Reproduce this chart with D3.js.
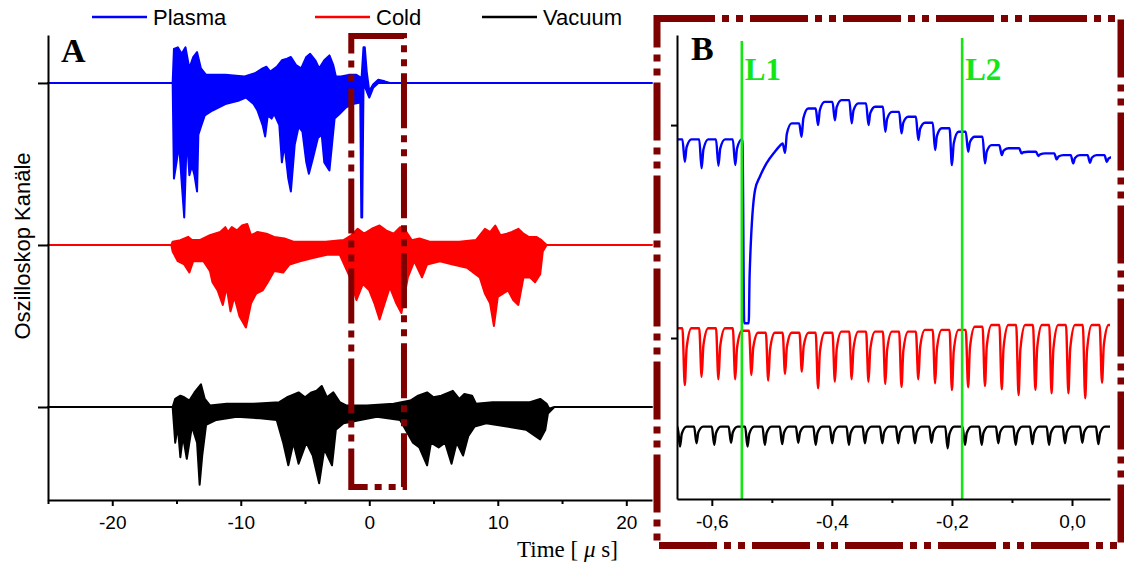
<!DOCTYPE html>
<html>
<head>
<meta charset="utf-8">
<script src="https://cdn.jsdelivr.net/npm/d3@7/dist/d3.min.js"></script>
<style>
  body { margin: 0; background: #fff; }
  text { font-family: "Liberation Sans", Arial, sans-serif; }
</style>
</head>
<body>
<svg id="chart" width="1124" height="563"></svg>
<script>
// ---- panel A: envelopes [time us, amplitude] ----
var channels = ["Plasma", "Cold", "Vacuum"];
var colors = ["#0000ff", "#ff0000", "#000000"];
var offsetsA = [20, 10, 0];
var ticksA = [-20, -10, 0, 10, 20];
var minorA = [-25, -15, -5, 5, 15];

var plasmaUpper = [[-25,0],[-15.3,0],[-15.2,2.1],[-14.9,2.2],[-14.6,1.8],[-14.3,2.2],[-14.0,0.9],[-13.7,1.6],[-13.4,1.9],[-13.1,0.9],[-12.7,0.5],[-11.2,0.5],[-9.7,0.4],[-8.9,0.6],[-8.3,0.9],[-8.0,1.0],[-7.7,0.7],[-7.2,1.0],[-6.8,1.4],[-6.4,1.5],[-6.1,1.6],[-5.7,1.1],[-5.3,0.9],[-4.9,1.6],[-4.6,1.8],[-4.2,1.4],[-3.9,0.9],[-3.5,1.4],[-3.1,1.7],[-2.8,1.1],[-2.6,0.4],[-2.2,0.4],[-1.6,0.5],[-1.0,0.5],[-0.6,0.3],[-0.45,2.2],[-0.35,2.2],[-0.2,0.7],[0.0,-0.5],[0.3,-0.1],[0.7,0.2],[1.2,0.1],[1.6,0],[22,0]];
var plasmaLower = [[-25,0],[-15.3,0],[-15.2,-5.9],[-15.0,-4.9],[-14.8,-3.8],[-14.6,-6.1],[-14.4,-8.3],[-14.2,-3.2],[-14.0,-5.7],[-13.8,-5.1],[-13.6,-5.7],[-13.4,-6.7],[-13.3,-3.2],[-13.1,-2.7],[-12.8,-2.0],[-12.2,-1.7],[-11.2,-1.3],[-10.2,-1.1],[-9.6,-0.9],[-9.0,-1.3],[-8.7,-1.7],[-8.3,-2.6],[-8.1,-3.3],[-7.9,-2.0],[-7.6,-2.2],[-7.4,-1.9],[-7.0,-2.6],[-6.8,-4.9],[-6.6,-3.8],[-6.3,-5.9],[-6.1,-6.7],[-5.8,-3.8],[-5.5,-2.7],[-5.2,-3.0],[-4.9,-4.9],[-4.7,-5.6],[-4.4,-4.7],[-4.0,-3.4],[-3.7,-3.2],[-3.5,-4.9],[-3.1,-5.4],[-2.9,-3.8],[-2.7,-2.2],[-2.3,-1.9],[-1.8,-1.5],[-1.3,-1.3],[-0.7,-1.2],[-0.62,-8.3],[-0.55,-8.3],[-0.45,-0.3],[-0.3,-0.3],[0.0,-0.9],[0.3,-0.3],[0.7,0],[22,0]];
var coldUpper = [[-25,0],[-15.4,0],[-15.3,0.2],[-14.7,0.3],[-14.1,0.5],[-13.8,0.3],[-13.2,0.3],[-12.4,0.6],[-11.6,0.8],[-11.2,1.1],[-11.0,0.8],[-10.7,1.1],[-10.3,0.9],[-9.9,1.2],[-9.5,1.3],[-9.2,0.6],[-8.7,0.8],[-8.0,0.7],[-7.4,0.5],[-6.6,0.4],[-5.9,0.2],[-4.6,0.2],[-3.4,0.2],[-2.0,0.3],[-1.4,0.6],[-0.9,1.0],[-0.4,0.7],[0.2,1.0],[0.8,1.2],[1.3,0.9],[1.9,0.7],[2.4,1.1],[2.8,0.9],[3.3,0.3],[3.9,0.4],[4.7,0.2],[5.7,0.2],[7.0,0.2],[8.3,0.3],[9.0,1.0],[9.4,0.8],[9.8,1.2],[10.2,0.6],[10.7,0.7],[11.1,0.8],[11.6,1.0],[12.0,0.7],[12.4,0.5],[13.0,0.5],[13.4,0.3],[13.8,0],[22,0]];
var coldLower = [[-25,0],[-15.4,0],[-15.3,-0.4],[-14.9,-1.0],[-14.4,-1.2],[-14.0,-1.7],[-13.7,-1.0],[-12.9,-1.0],[-12.4,-1.6],[-12.2,-2.3],[-11.8,-2.8],[-11.4,-3.7],[-11.1,-2.6],[-10.8,-4.1],[-10.5,-3.2],[-10.1,-4.4],[-9.6,-5.1],[-9.2,-3.6],[-8.8,-3.0],[-8.3,-2.8],[-7.9,-2.3],[-7.4,-1.6],[-6.7,-1.7],[-6.2,-1.2],[-5.4,-1.0],[-4.4,-0.8],[-3.3,-0.6],[-2.3,-0.6],[-1.5,-2.0],[-1.0,-3.4],[-0.5,-2.4],[0.0,-2.8],[0.4,-3.6],[0.8,-4.6],[1.2,-3.6],[1.6,-2.6],[2.1,-3.6],[2.5,-4.2],[3.0,-2.0],[3.5,-1.0],[4.1,-2.0],[4.5,-1.2],[5.5,-1.0],[6.5,-1.2],[7.6,-1.4],[8.6,-2.0],[9.0,-3.0],[9.4,-3.6],[9.7,-5.0],[10.0,-3.2],[10.4,-3.0],[10.8,-2.8],[11.2,-3.4],[11.6,-3.7],[12.0,-2.0],[12.5,-2.0],[12.9,-2.3],[13.3,-1.8],[13.5,-0.4],[13.8,0],[22,0]];
var vacuumUpper = [[-25,0],[-15.3,0],[-15.1,0.5],[-14.7,0.7],[-14.4,0.6],[-14.0,0.4],[-13.6,0.9],[-13.1,1.4],[-12.8,0.5],[-12.4,0.1],[-11.1,0.2],[-9.0,0.2],[-7.0,0.3],[-6.4,0.6],[-6.1,0.7],[-5.5,0.9],[-5.0,0.6],[-4.5,0.9],[-4.1,1.0],[-3.7,1.3],[-3.3,0.6],[-2.8,0.9],[-2.3,0.3],[-1.8,0.1],[-0.2,0.1],[1.9,0.2],[3.2,0.4],[3.8,0.7],[4.5,0.9],[5.0,0.6],[5.6,0.7],[6.5,1.0],[7.0,0.5],[7.4,0.8],[8.0,0.7],[8.3,0.2],[9.6,0.3],[11.2,0.3],[12.5,0.3],[13.3,0.5],[13.8,0.2],[14.0,-0.1],[14.4,0],[22,0]];
var vacuumLower = [[-25,0],[-15.3,0],[-15.1,-2.2],[-14.9,-1.2],[-14.7,-3.1],[-14.5,-1.8],[-14.2,-3.2],[-13.8,-1.2],[-13.4,-2.2],[-13.2,-4.8],[-13.0,-3.0],[-12.7,-1.1],[-11.9,-0.8],[-10.3,-0.6],[-8.5,-0.7],[-7.2,-0.8],[-6.7,-2.2],[-6.3,-3.6],[-5.9,-2.2],[-5.5,-3.5],[-4.9,-2.2],[-4.4,-3.0],[-3.9,-4.7],[-3.5,-2.6],[-2.9,-3.6],[-2.6,-1.4],[-2.0,-1.0],[-0.7,-0.8],[0.6,-0.6],[2.4,-0.8],[3.4,-2.2],[3.9,-2.5],[4.5,-3.6],[4.8,-2.2],[5.4,-2.5],[5.9,-2.2],[6.4,-3.5],[6.8,-2.2],[7.3,-3.0],[7.7,-1.8],[8.2,-1.2],[9.1,-1.0],[10.7,-1.2],[12.2,-1.4],[13.3,-2.0],[13.7,-1.4],[13.9,-0.4],[14.4,0],[22,0]];
var zoomWindow = [-1.4, 2.7];

// ---- panel B: dip times, level before each dip, dip minimum ----
var ticksB = [-0.6, -0.4, -0.2, 0.0];
var minorB = [-0.5, -0.3, -0.1];
var markers = [{name: "L1", t: -0.55}, {name: "L2", t: -0.183}];

var plasmaB_start = [-0.658, 19.33];
var plasmaB_dipsPre = [-0.645, -0.617, -0.589, -0.561];
var plasmaB_levelPre = [19.33, 19.33, 19.33, 19.33];
var plasmaB_minPre = [18.28, 17.97, 18.09, 18.12];
var plasmaB_jump = [[-0.549,19.33],[-0.546,10.69],[-0.5385,10.69],[-0.537,12.98],[-0.528,16.95],[-0.520,17.57],[-0.509,18.20],[-0.495,18.75],[-0.486,19.05]];
var plasmaB_dips = [-0.478,-0.4505,-0.423,-0.395,-0.367,-0.339,-0.311,-0.284,-0.256,-0.228,-0.200,-0.173,-0.145,-0.117,-0.084,-0.056,-0.0255,0.002,0.030,0.058];
var plasmaB_level = [19.14,20.08,20.78,21.09,21.17,21.02,20.86,20.62,20.39,20.11,19.85,19.69,19.45,19.06,18.91,18.75,18.67,18.59,18.59,18.59];
var plasmaB_min = [18.69,19.45,20.0,20.23,20.08,20.0,19.69,19.61,19.30,18.83,18.12,18.75,18.20,18.59,18.67,18.55,18.39,18.20,18.23,18.28];
var plasmaB_end = [0.072, 18.51];

var coldB_dips = [-0.645,-0.617,-0.589,-0.561,-0.534,-0.506,-0.478,-0.450,-0.423,-0.395,-0.367,-0.339,-0.311,-0.284,-0.256,-0.228,-0.200,-0.173,-0.145,-0.117,-0.089,-0.061,-0.034,-0.006,0.022,0.050];
var coldB_level = [10.46,10.46,10.46,10.46,10.34,10.25,10.25,10.25,10.25,10.25,10.30,10.30,10.30,10.30,10.30,10.38,10.38,10.38,10.53,10.61,10.61,10.61,10.61,10.61,10.61,10.61];
var coldB_min = [7.79,8.18,8.06,8.06,8.26,8.00,8.31,8.42,7.64,7.95,8.06,7.95,7.84,7.71,8.06,7.87,7.56,7.69,7.75,7.59,7.32,7.56,7.40,7.40,7.17,7.90];
var coldB_start = [-0.658, 10.46];
var coldB_end = [0.0633, 10.61];

var vacuumB_dips = [-0.653,-0.6255,-0.596,-0.568,-0.5405,-0.5117,-0.4828,-0.456,-0.427,-0.3995,-0.3717,-0.345,-0.316,-0.2895,-0.2617,-0.234,-0.2072,-0.1783,-0.1505,-0.1228,-0.0939,-0.066,-0.0383,-0.0117,0.0172,0.0439];
var vacuumB_level = [5.84,5.84,5.84,5.84,5.84,5.84,5.84,5.84,5.84,5.84,5.84,5.84,5.84,5.84,5.84,5.84,5.84,5.84,5.84,5.84,5.84,5.84,5.84,5.84,5.84,5.84];
var vacuumB_min = [4.90,5.06,4.98,5.08,4.90,4.98,5.02,5.08,4.98,5.06,4.98,5.06,5.06,5.06,5.06,5.08,4.82,4.98,4.98,5.06,4.98,5.02,4.98,5.06,5.08,5.02];
var vacuumB_start = [-0.658, 5.84];
var vacuumB_end = [0.0633, 5.84];

var svg = d3.select("#chart");
var boxColor = "#7f0000";
var green = "#14e614";

// scales
var xA = d3.scaleLinear().domain([-25, 22]).range([48, 652]);
var yA = d3.scaleLinear().domain([-5.74, 22.96]).range([500, 35]);
var xB = d3.scaleLinear().domain([-0.658, 0.0633]).range([677, 1110]);
var yB = d3.scaleLinear().domain([2.44, 24.23]).range([499, 35]);

// ----- panel A traces -----
var envelopes = [[plasmaUpper, plasmaLower], [coldUpper, coldLower], [vacuumUpper, vacuumLower]];
var gA = svg.append("g");
envelopes.forEach(function(env, i) {
    var off = offsetsA[i];
    var pts = env[0].map(function(d) { return [xA(d[0]), yA(off + d[1])] })
        .concat(env[1].slice().reverse().map(function(d) { return [xA(d[0]), yA(off + d[1])] }));
    gA.append("path")
        .attr("d", d3.line()(pts) + "Z")
        .attr("fill", colors[i])
        .attr("stroke", colors[i])
        .attr("stroke-width", 2)
        .attr("stroke-linejoin", "round");
});

// axes A
var axA = svg.append("g").attr("transform", "translate(0,500)");
axA.call(d3.axisBottom(xA).tickValues(ticksA).tickSize(6).tickSizeOuter(0).tickPadding(10)
    .tickFormat(function(d) { return String(d) }));
svg.append("g").attr("transform", "translate(0,500)")
    .call(d3.axisBottom(xA).tickValues(minorA).tickSize(4).tickFormat(""))
    .select(".domain").remove();
svg.append("g").attr("transform", "translate(48,0)")
    .call(d3.axisLeft(yA).tickValues(offsetsA).tickSize(10).tickSizeOuter(0).tickFormat(""));

// ----- panel B traces -----
function dipLine(start, dips, level, mins, end) {
    var pts = [start];
    dips.forEach(function(t, i) {
        var next = i + 1 < level.length ? level[i + 1] : end[1];
        pts.push([t - 0.004, level[i]], [t, mins[i]],
                 [t + 0.003, mins[i] + 0.65 * (next - mins[i])], [t + 0.011, next]);
    });
    pts.push(end);
    return pts;
}
var plasmaPts = dipLine(plasmaB_start, plasmaB_dipsPre, plasmaB_levelPre, plasmaB_minPre, plasmaB_jump[0])
    .concat(plasmaB_jump.slice(1))
    .concat(dipLine(plasmaB_jump[plasmaB_jump.length - 1], plasmaB_dips, plasmaB_level, plasmaB_min, plasmaB_end).slice(1));
var coldPts = dipLine(coldB_start, coldB_dips, coldB_level, coldB_min, coldB_end);
var vacuumPts = dipLine(vacuumB_start, vacuumB_dips, vacuumB_level, vacuumB_min, vacuumB_end);

var lineB = d3.line().curve(d3.curveMonotoneX)
    .x(function(d) { return xB(d[0]) }).y(function(d) { return yB(d[1]) });
svg.append("clipPath").attr("id", "clipB").append("rect")
    .attr("x", 677).attr("y", 30).attr("width", 434).attr("height", 470);
var gB = svg.append("g").attr("clip-path", "url(#clipB)");
[plasmaPts, coldPts, vacuumPts].forEach(function(pts, i) {
    gB.append("path").attr("d", lineB(pts))
        .attr("fill", "none").attr("stroke", colors[i])
        .attr("stroke-width", 2.4).attr("stroke-linejoin", "round");
});

// marker lines L1 / L2
markers.forEach(function(m, i) {
    svg.append("line")
        .attr("x1", xB(m.t)).attr("x2", xB(m.t))
        .attr("y1", i == 0 ? 41 : 38).attr("y2", 499)
        .attr("stroke", green).attr("stroke-width", 2.6);
    svg.append("text")
        .attr("x", xB(m.t) + 3).attr("y", 80)
        .style("font-family", "'Liberation Serif', 'Times New Roman', serif")
        .style("font-weight", "bold").style("font-size", "31px")
        .attr("fill", green).text(m.name);
});

// axes B
svg.append("g").attr("transform", "translate(0,499)")
    .call(d3.axisBottom(xB).tickValues(ticksB).tickSize(7).tickSizeOuter(0).tickPadding(9)
        .tickFormat(function(d) { return d.toFixed(1).replace(".", ",") }));
svg.append("g").attr("transform", "translate(0,499)")
    .call(d3.axisBottom(xB).tickValues(minorB).tickSize(4).tickFormat(""))
    .select(".domain").remove();
svg.append("g").attr("transform", "translate(677,0)")
    .call(d3.axisLeft(yB).tickValues([10, 20]).tickSize(6).tickSizeOuter(0).tickFormat(""));

svg.selectAll(".domain").attr("stroke-width", 2);
svg.selectAll(".tick line").attr("stroke-width", 2);
svg.selectAll(".tick text")
    .style("font-family", "'Liberation Sans', Arial, sans-serif")
    .style("font-size", "19px").attr("fill", "#000");

// ----- zoom boxes -----
svg.append("rect")
    .attr("x", xA(zoomWindow[0])).attr("y", 36)
    .attr("width", xA(zoomWindow[1]) - xA(zoomWindow[0])).attr("height", 451)
    .attr("fill", "none").attr("stroke", boxColor).attr("stroke-width", 6)
    .attr("stroke-dasharray", "55,7,7,7,7,7");
svg.append("rect")
    .attr("x", 657).attr("y", 18.5).attr("width", 464).attr("height", 527)
    .attr("fill", "none").attr("stroke", boxColor).attr("stroke-width", 7)
    .attr("stroke-dasharray", "58,7,7,7,7,7");

// ----- labels -----
var serif = "'Liberation Serif', 'Times New Roman', serif";
svg.append("text").attr("x", 61).attr("y", 62)
    .style("font-family", serif).style("font-weight", "bold").style("font-size", "34px").text("A");
svg.append("text").attr("x", 691).attr("y", 60)
    .style("font-family", serif).style("font-weight", "bold").style("font-size", "34px").text("B");

var tl = svg.append("text").attr("x", 517).attr("y", 557)
    .style("font-family", serif).style("font-size", "23px");
tl.append("tspan").text("Time [ ");
tl.append("tspan").style("font-style", "italic").text("\u03bc");
tl.append("tspan").text(" s]");

svg.append("text").attr("transform", "translate(30,246) rotate(-90)")
    .attr("text-anchor", "middle").style("font-size", "22px").text("Oszilloskop Kan\u00e4le");

// legend
var legX = [92, 315, 482];
channels.forEach(function(c, i) {
    svg.append("line").attr("x1", legX[i]).attr("x2", legX[i] + 55)
        .attr("y1", 17).attr("y2", 17).attr("stroke", colors[i]).attr("stroke-width", 2.5);
    svg.append("text").attr("x", legX[i] + 61).attr("y", 25)
        .style("font-size", "22px").text(c);
});
</script>
</body>
</html>
